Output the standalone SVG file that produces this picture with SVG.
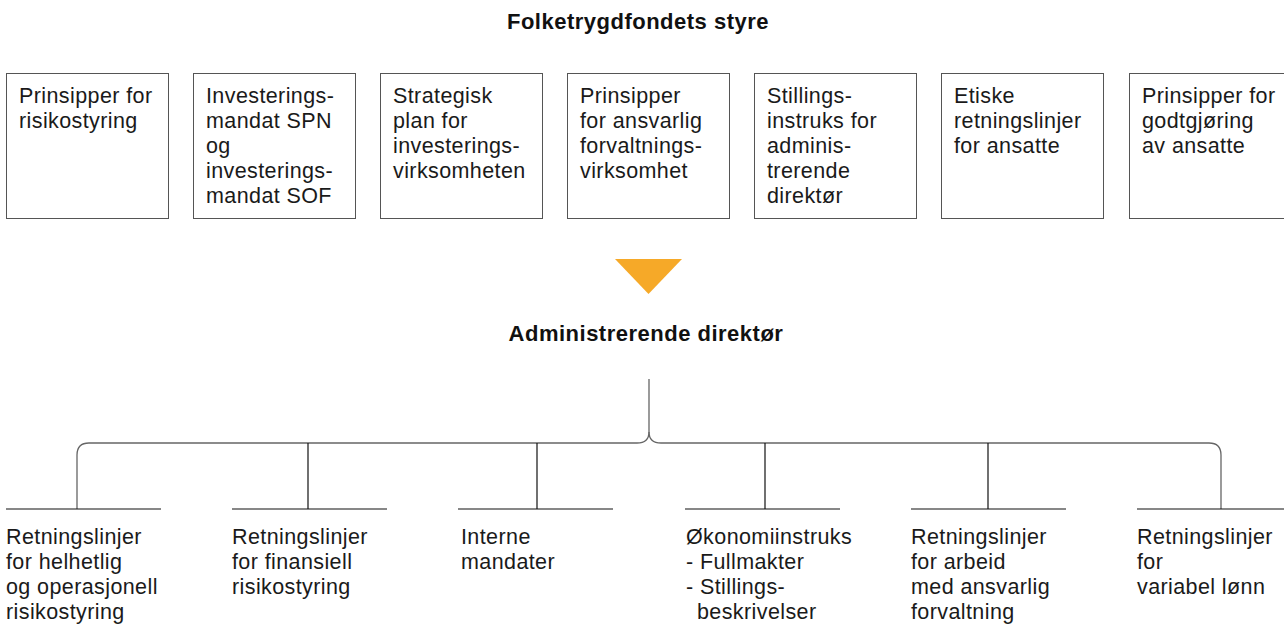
<svg xmlns="http://www.w3.org/2000/svg" width="1284" height="624" viewBox="0 0 1284 624">
<style>
.t{font-family:"Liberation Sans",Arial,sans-serif;font-size:21.5px;letter-spacing:0.4px;fill:#1a1a1a}
.h{font-family:"Liberation Sans",Arial,sans-serif;font-size:22px;letter-spacing:0.5px;font-weight:bold;fill:#111;text-anchor:middle}
.box{fill:#fff;stroke:#555;stroke-width:1}
.bar{stroke:#111;stroke-width:1.2;fill:none}
.drop{stroke:#111;stroke-width:1.2;fill:none}
.brace{stroke:#666;stroke-width:1.3;fill:none}
</style>
<rect width="1284" height="624" fill="#fff"/>
<g id="title-styre"><text class="h" x="638" y="29">Folketrygdfondets styre</text></g>
<g id="box1"><rect class="box" x="6.5" y="73.5" width="162" height="145"/><text class="t" x="19"><tspan x="19" y="103">Prinsipper for</tspan><tspan x="19" y="128">risikostyring</tspan></text></g>
<g id="box2"><rect class="box" x="193.5" y="73.5" width="162" height="145"/><text class="t"><tspan x="206" y="103">Investerings-</tspan><tspan x="206" y="128">mandat SPN</tspan><tspan x="206" y="153">og</tspan><tspan x="206" y="178">investerings-</tspan><tspan x="206" y="203">mandat SOF</tspan></text></g>
<g id="box3"><rect class="box" x="380.5" y="73.5" width="162" height="145"/><text class="t"><tspan x="393" y="103">Strategisk</tspan><tspan x="393" y="128">plan for</tspan><tspan x="393" y="153">investerings-</tspan><tspan x="393" y="178">virksomheten</tspan></text></g>
<g id="box4"><rect class="box" x="567.5" y="73.5" width="162" height="145"/><text class="t"><tspan x="580" y="103">Prinsipper</tspan><tspan x="580" y="128">for ansvarlig</tspan><tspan x="580" y="153">forvaltnings-</tspan><tspan x="580" y="178">virksomhet</tspan></text></g>
<g id="box5"><rect class="box" x="754.5" y="73.5" width="162" height="145"/><text class="t"><tspan x="767" y="103">Stillings-</tspan><tspan x="767" y="128">instruks for</tspan><tspan x="767" y="153">adminis-</tspan><tspan x="767" y="178">trerende</tspan><tspan x="767" y="203">direktør</tspan></text></g>
<g id="box6"><rect class="box" x="941.5" y="73.5" width="162" height="145"/><text class="t"><tspan x="954" y="103">Etiske</tspan><tspan x="954" y="128">retningslinjer</tspan><tspan x="954" y="153">for ansatte</tspan></text></g>
<g id="box7"><rect class="box" x="1129.5" y="73.5" width="162" height="145"/><text class="t"><tspan x="1142" y="103">Prinsipper for</tspan><tspan x="1142" y="128">godtgjøring</tspan><tspan x="1142" y="153">av ansatte</tspan></text></g>
<g id="arrow"><polygon points="615,259 682,259 648.5,294" fill="#F6A928"/></g>
<g id="title-adm"><text class="h" x="646" y="341">Administrerende direktør</text></g>
<g id="connectors">
<path class="brace" d="M649,379 V432 Q649,443 637,443 H89 Q77,443 77,455 V509"/>
<path class="brace" d="M649,432 Q649,443 661,443 H1209 Q1221,443 1221,455 V509"/>
<line class="drop" x1="308" y1="443" x2="308" y2="509"/>
<line class="drop" x1="537" y1="443" x2="537" y2="509"/>
<line class="drop" x1="765" y1="443" x2="765" y2="509"/>
<line class="drop" x1="988" y1="443" x2="988" y2="509"/>
</g>
<g id="item1"><line class="bar" x1="6" y1="509" x2="161" y2="509"/><text class="t"><tspan x="6" y="544">Retningslinjer</tspan><tspan x="6" y="569">for helhetlig</tspan><tspan x="6" y="594">og operasjonell</tspan><tspan x="6" y="619">risikostyring</tspan></text></g>
<g id="item2"><line class="bar" x1="232" y1="509" x2="387" y2="509"/><text class="t"><tspan x="232" y="544">Retningslinjer</tspan><tspan x="232" y="569">for finansiell</tspan><tspan x="232" y="594">risikostyring</tspan></text></g>
<g id="item3"><line class="bar" x1="458" y1="509" x2="613" y2="509"/><text class="t"><tspan x="461" y="544">Interne</tspan><tspan x="461" y="569">mandater</tspan></text></g>
<g id="item4"><line class="bar" x1="685" y1="509" x2="840" y2="509"/><text class="t"><tspan x="686" y="544">Økonomiinstruks</tspan><tspan x="686" y="569">- Fullmakter</tspan><tspan x="686" y="594">- Stillings-</tspan><tspan x="697" y="619">beskrivelser</tspan></text></g>
<g id="item5"><line class="bar" x1="911" y1="509" x2="1066" y2="509"/><text class="t"><tspan x="911" y="544">Retningslinjer</tspan><tspan x="911" y="569">for arbeid</tspan><tspan x="911" y="594">med ansvarlig</tspan><tspan x="911" y="619">forvaltning</tspan></text></g>
<g id="item6"><line class="bar" x1="1137" y1="509" x2="1284" y2="509"/><text class="t"><tspan x="1137" y="544">Retningslinjer</tspan><tspan x="1137" y="569">for</tspan><tspan x="1137" y="594">variabel lønn</tspan></text></g>
</svg>
